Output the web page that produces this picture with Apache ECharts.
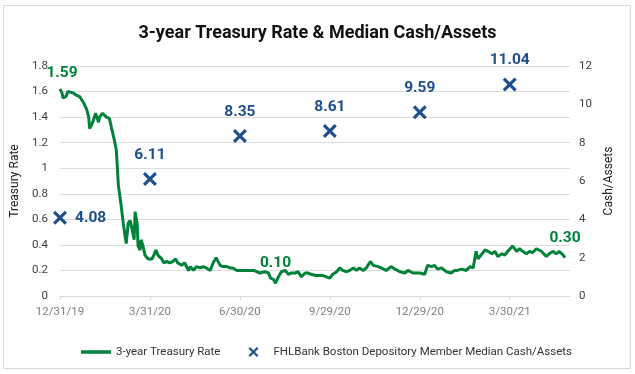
<!DOCTYPE html>
<html><head><meta charset="utf-8">
<script src="https://cdn.jsdelivr.net/npm/echarts@6/dist/echarts.min.js"></script>
<style>html,body{margin:0;padding:0;background:#fff}#c{width:635px;height:374px}</style>
</head><body><div id="c"></div>
<script>
const START_DATE = '2019-12-31';
const AXIS_END_DATE = '2021-05-30';
const xTickLabels = ['12/31/19','3/31/20','6/30/20','9/29/20','12/29/20','3/30/21'];

const rateDates = [
'2019-12-31','2020-01-02','2020-01-03','2020-01-06','2020-01-07','2020-01-08','2020-01-10','2020-01-13','2020-01-17','2020-01-20',
'2020-01-24','2020-01-27','2020-01-29','2020-01-30','2020-02-01','2020-02-03','2020-02-05','2020-02-08','2020-02-09','2020-02-12',
'2020-02-16','2020-02-19','2020-02-21','2020-02-24','2020-02-26','2020-02-27','2020-02-28','2020-03-01','2020-03-02','2020-03-04',
'2020-03-06','2020-03-07','2020-03-09','2020-03-11','2020-03-13','2020-03-15','2020-03-16','2020-03-18','2020-03-19','2020-03-21',
'2020-03-22','2020-03-24','2020-03-26','2020-03-29','2020-04-02','2020-04-04','2020-04-06','2020-04-08','2020-04-12','2020-04-14',
'2020-04-17','2020-04-20','2020-04-23','2020-04-26','2020-04-28','2020-05-02','2020-05-05','2020-05-09','2020-05-11','2020-05-14',
'2020-05-17','2020-05-21','2020-05-24','2020-05-27','2020-05-31','2020-06-03','2020-06-06','2020-06-08','2020-06-10','2020-06-13',
'2020-06-17','2020-06-20','2020-06-23','2020-06-27','2020-06-30','2020-07-07','2020-07-14','2020-07-17','2020-07-20','2020-07-25',
'2020-07-29','2020-07-31','2020-08-03','2020-08-05','2020-08-08','2020-08-11','2020-08-15','2020-08-18','2020-08-21','2020-08-25',
'2020-08-28','2020-08-31','2020-09-04','2020-09-07','2020-09-10','2020-09-15','2020-09-22','2020-09-29','2020-10-02','2020-10-06',
'2020-10-09','2020-10-12','2020-10-16','2020-10-19','2020-10-23','2020-10-26','2020-10-29','2020-11-02','2020-11-05','2020-11-09',
'2020-11-12','2020-11-17','2020-11-20','2020-11-25','2020-11-30','2020-12-04','2020-12-09','2020-12-14','2020-12-17','2020-12-22',
'2020-12-29','2021-01-03','2021-01-06','2021-01-10','2021-01-13','2021-01-16','2021-01-20','2021-01-25','2021-01-30','2021-02-02',
'2021-02-05','2021-02-09','2021-02-14','2021-02-18','2021-02-21','2021-02-24','2021-02-26','2021-03-02','2021-03-05','2021-03-08',
'2021-03-12','2021-03-15','2021-03-18','2021-03-22','2021-03-25','2021-03-28','2021-04-02','2021-04-06','2021-04-09','2021-04-12',
'2021-04-16','2021-04-19','2021-04-22','2021-04-26','2021-05-01','2021-05-06','2021-05-09','2021-05-13','2021-05-16','2021-05-19',
'2021-05-22','2021-05-25'
];
const rateValues = [
1.62,1.59,1.55,1.56,1.58,1.60,1.61,1.59,1.57,1.56,
1.51,1.46,1.40,1.31,1.34,1.38,1.43,1.36,1.40,1.43,
1.40,1.39,1.32,1.22,1.14,1.01,0.87,0.86,0.70,0.57,
0.46,0.41,0.57,0.59,0.52,0.44,0.66,0.57,0.39,0.36,
0.44,0.39,0.32,0.29,0.29,0.32,0.36,0.32,0.29,0.26,
0.27,0.26,0.27,0.29,0.26,0.24,0.26,0.20,0.23,0.20,
0.23,0.22,0.23,0.22,0.20,0.26,0.30,0.29,0.24,0.23,
0.23,0.22,0.22,0.20,0.20,0.20,0.20,0.19,0.18,0.19,
0.18,0.14,0.13,0.10,0.15,0.19,0.20,0.17,0.18,0.18,
0.19,0.15,0.18,0.18,0.17,0.16,0.16,0.14,0.17,0.19,
0.22,0.20,0.19,0.20,0.22,0.20,0.22,0.20,0.22,0.27,
0.24,0.23,0.22,0.20,0.23,0.21,0.19,0.18,0.20,0.18,
0.18,0.17,0.24,0.23,0.24,0.21,0.22,0.19,0.18,0.20,
0.20,0.21,0.20,0.23,0.22,0.35,0.29,0.33,0.36,0.35,
0.33,0.35,0.31,0.33,0.32,0.35,0.39,0.35,0.37,0.35,
0.33,0.35,0.34,0.37,0.35,0.31,0.33,0.35,0.33,0.35,
0.33,0.30
];
const rateLabelDates = ['2020-01-02','2020-08-05','2021-05-25'];

const cashDates = ['2019-12-31','2020-03-31','2020-06-30','2020-09-29','2020-12-29','2021-03-30'];
const cashValues = [4.08, 6.11, 8.35, 8.61, 9.59, 11.04];

const GREEN = '#00823B';
const BLUE = '#1F4E8C';
const FONT = "Roboto,'Liberation Sans',Arial,sans-serif";
const X_PATH = 'path://M0,1.6 L1.6,0 L5,3.4 L8.4,0 L10,1.6 L6.6,5 L10,8.4 L8.4,10 L5,6.6 L1.6,10 L0,8.4 L3.4,5 Z';
const LINE_ICON = 'path://M0,0 L30,0 L30,3.5 L0,3.5 Z';

function dayOf(s) { return (Date.parse(s) - Date.parse(START_DATE)) / 86400000; }

const rateData = rateDates.map((d, i) => {
  const item = { value: [dayOf(d), rateValues[i]] };
  if (rateLabelDates.includes(d)) item.label = { show: true };
  return item;
});
const cashData = cashDates.map((d, i) => {
  const item = { value: [dayOf(d), cashValues[i]] };
  if (i === 0) item.label = { position: 'right', distance: 8 };
  return item;
});

const chart = echarts.init(document.getElementById('c'));
chart.setOption({
  animation: false,
  backgroundColor: '#fff',
  textStyle: { fontFamily: FONT },
  title: {
    text: '3-year Treasury Rate & Median Cash/Assets',
    left: 'center', top: 19,
    textStyle: { fontFamily: FONT, fontSize: 18, fontWeight: 'bold', color: '#111' }
  },
  graphic: [{
    type: 'rect', shape: { x: 3.5, y: 5.5, width: 627, height: 363 },
    style: { fill: 'none', stroke: '#d9d9d9', lineWidth: 1 }, silent: true, z: -1
  }],
  grid: { left: 60, right: 65, top: 66, bottom: 78 },
  legend: {
    top: 341, left: 76, itemGap: 28, itemWidth: 30, itemHeight: 10,
    textStyle: { fontFamily: FONT, fontSize: 11.5, color: '#333' },
    data: [
      { name: '3-year Treasury Rate', icon: LINE_ICON },
      { name: 'FHLBank Boston Depository Member Median Cash/Assets', icon: X_PATH }
    ]
  },
  xAxis: {
    type: 'value', min: 0, max: dayOf(AXIS_END_DATE), interval: 91,
    splitLine: { show: false },
    axisLine: { lineStyle: { color: '#d9d9d9' } },
    axisTick: { show: true, length: 4, lineStyle: { color: '#d9d9d9' } },
    axisLabel: {
      margin: 10, color: '#7f7f7f', fontSize: 11.5, fontFamily: FONT,
      showMaxLabel: false,
      formatter: v => xTickLabels[Math.round(v / 91)] || ''
    }
  },
  yAxis: [{
    type: 'value', min: 0, max: 1.8, interval: 0.2,
    name: 'Treasury Rate', nameLocation: 'middle', nameGap: 34,
    nameTextStyle: { fontFamily: FONT, fontSize: 12, color: '#222' },
    axisLine: { show: false }, axisTick: { show: false },
    axisLabel: { margin: 12, color: '#404040', fontSize: 11.5, fontFamily: FONT },
    splitLine: { lineStyle: { color: '#dcdcdc' } }
  }, {
    type: 'value', min: 0, max: 12, interval: 2,
    name: 'Cash/Assets', nameLocation: 'middle', nameGap: 32, nameRotate: 90,
    nameTextStyle: { fontFamily: FONT, fontSize: 12, color: '#222' },
    axisLine: { show: false }, axisTick: { show: false },
    axisLabel: { margin: 9, color: '#404040', fontSize: 11.5, fontFamily: FONT },
    splitLine: { show: false }
  }],
  series: [{
    name: '3-year Treasury Rate',
    type: 'line', yAxisIndex: 0,
    data: rateData,
    symbol: 'circle', symbolSize: 0.01, showSymbol: true,
    lineStyle: { color: GREEN, width: 3 },
    itemStyle: { color: GREEN },
    label: {
      show: false, position: 'top', distance: 12,
      color: GREEN, fontFamily: FONT, fontSize: 15.5, fontWeight: 'bold',
      formatter: p => p.value[1].toFixed(2)
    },
    z: 3
  }, {
    name: 'FHLBank Boston Depository Member Median Cash/Assets',
    type: 'scatter', yAxisIndex: 1,
    data: cashData,
    symbol: X_PATH, symbolSize: 14,
    itemStyle: { color: BLUE, opacity: 1 },
    label: {
      show: true, position: 'top', distance: 9,
      color: BLUE, fontFamily: FONT, fontSize: 15.5, fontWeight: 'bold',
      formatter: p => p.value[1].toFixed(2)
    },
    z: 4
  }]
});
</script></body></html>
